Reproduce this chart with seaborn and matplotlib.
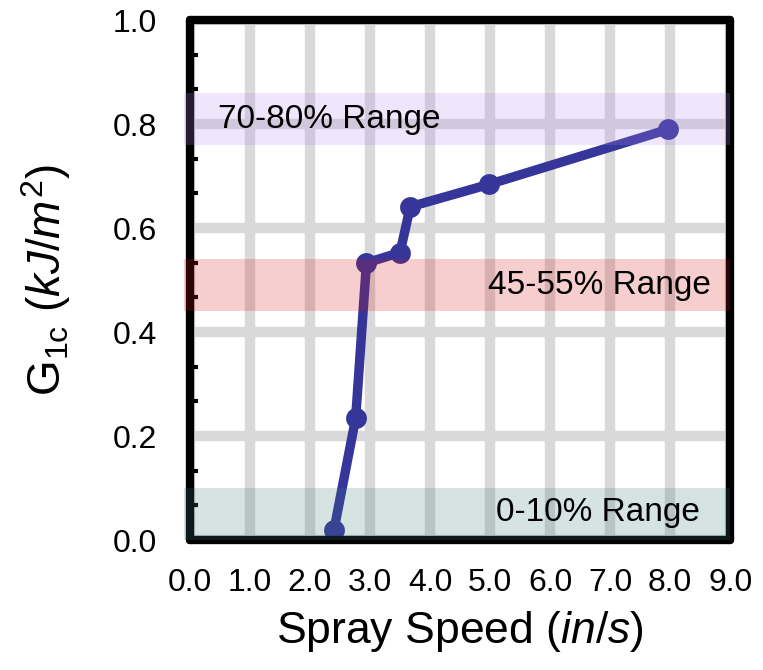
import pandas as pd
import numpy as np
import seaborn as sns
import matplotlib.pyplot as plt
from matplotlib.ticker import MultipleLocator

# data
speed = [2.4, 2.76, 2.94, 3.5, 3.67, 4.98, 7.97]
g1c = [0.02, 0.234, 0.533, 0.553, 0.641, 0.684, 0.79]

xticks = [0.0, 1.0, 2.0, 3.0, 4.0, 5.0, 6.0, 7.0, 8.0, 9.0]
yticks = [0.0, 0.2, 0.4, 0.6, 0.8, 1.0]

band_labels = ["0-10% Range", "45-55% Range", "70-80% Range"]
band_lo = [0.0, 0.44, 0.76]
band_hi = [0.10, 0.54, 0.86]
band_colors = [(0.24, 0.49, 0.49), (0.85, 0.1, 0.1), (0.72, 0.55, 0.95)]

sns.set_style("white")
plt.rcParams['font.family'] = ['Liberation Sans', 'DejaVu Sans']
plt.rcParams['mathtext.fontset'] = 'custom'
plt.rcParams['mathtext.rm'] = 'Liberation Sans'
plt.rcParams['mathtext.it'] = 'Liberation Sans:italic'
plt.rcParams['text.color'] = 'black'
plt.rcParams['axes.labelcolor'] = 'black'
plt.rcParams['xtick.labelcolor'] = 'black'
plt.rcParams['ytick.labelcolor'] = 'black'

df = pd.DataFrame({"speed": speed, "g1c": g1c})

fig = plt.figure(figsize=(7.63, 6.7), dpi=100)
ax = fig.add_axes([0.249, 0.194, 0.708, 0.776])

sns.lineplot(data=df, x="speed", y="g1c", sort=False, color="#35359a",
             linewidth=6.8, marker="o", markersize=15, markeredgewidth=0,
             ax=ax, zorder=2)

# shaded ranges drawn over everything
for lab, lo, hi, c in zip(band_labels, band_lo, band_hi, band_colors):
    ax.axhspan(lo, hi, xmin=-0.012, xmax=1.0, color=c, alpha=0.21,
               lw=0, zorder=4, clip_on=False)

ax.text(0.47, 0.808, band_labels[2], fontsize=24, va="center", ha="left", zorder=5)
ax.text(8.67, 0.489, band_labels[1], fontsize=24, va="center", ha="right", zorder=5)
ax.text(8.5, 0.052, band_labels[0], fontsize=24, va="center", ha="right", zorder=5)

ax.set_xlim(0, 9)
ax.set_ylim(0, 1.0)
ax.set_xticks(xticks)
ax.set_xticklabels([f"{v:.1f}" for v in xticks])
ax.set_yticks(yticks)
ax.set_yticklabels([f"{v:.1f}" for v in yticks])
ax.yaxis.set_minor_locator(MultipleLocator(0.2 / 3))

ax.grid(True, which="major", color="#d9d9d9", linewidth=7.5)
ax.set_axisbelow(True)

ax.tick_params(axis="x", which="major", direction="in", length=6, width=7,
               color="black", labelsize=23, pad=20, top=False)
ax.tick_params(axis="y", which="major", direction="in", length=6, width=3,
               color="black", labelsize=23, pad=24, right=False)
ax.tick_params(axis="y", which="minor", direction="in", length=6, width=3,
               color="black", left=True)

for s in ax.spines.values():
    s.set_visible(True)
    s.set_linewidth(6)
    s.set_color("black")
    s.set_capstyle("round")
    s.set_joinstyle("round")

ax.set_xlabel("Spray Speed ($in/s$)", fontsize=32, labelpad=8)
ax.set_ylabel(r"G$_{\mathrm{1c}}$ ($kJ/m^{2}$)", fontsize=33, labelpad=28)

fig.savefig("out.png", dpi=100)
